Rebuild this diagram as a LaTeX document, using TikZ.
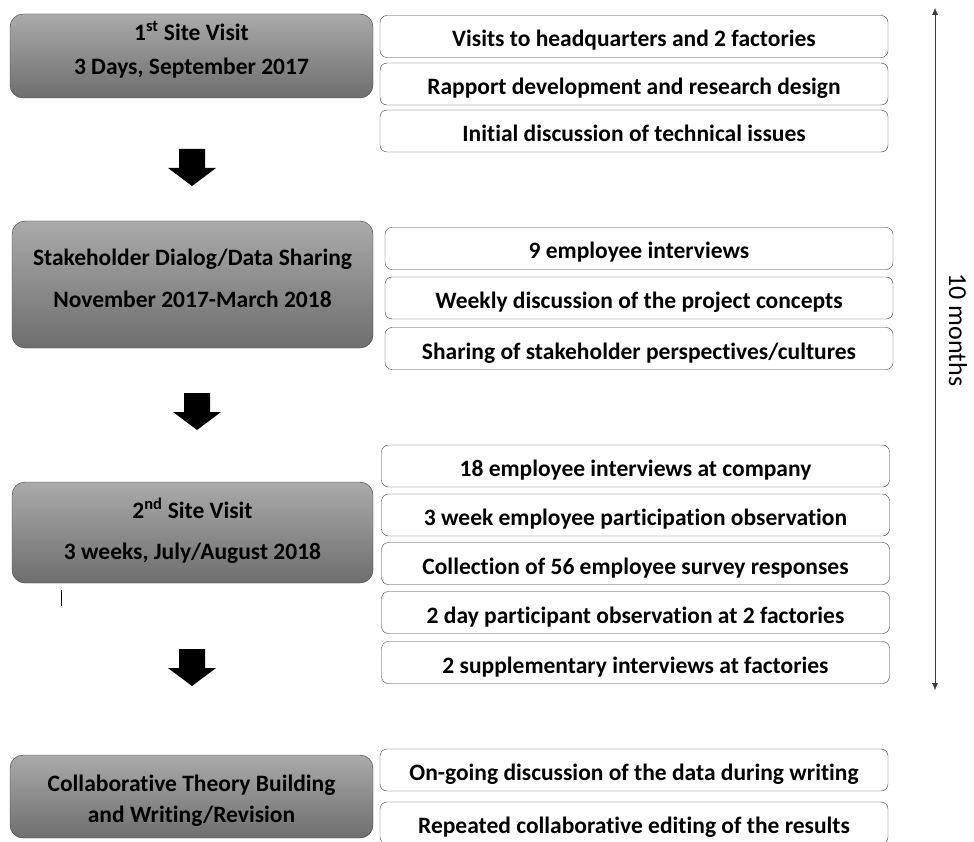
\documentclass[tikz,border=0pt]{standalone}
\usepackage{fontspec}
\setmainfont{Carlito}[Ligatures=NoCommon]
\usetikzlibrary{calc}
\usetikzlibrary{arrows.meta}

\definecolor{phaseTop}{RGB}{170,170,170}
\definecolor{phaseBot}{RGB}{110,110,110}
\definecolor{boxLine}{RGB}{60,60,60}

\tikzset{
  phase/.style={draw=boxLine, rounded corners=13pt, top color=phaseTop, bottom color=phaseBot,
    align=center, inner sep=0pt, font=\bfseries\fontsize{23.5}{28}\selectfont},
  item/.style={draw=boxLine, rounded corners=7pt, fill=white, minimum width=508pt,
    minimum height=42pt, inner sep=0pt, text height=21pt, text depth=0pt,
    font=\bfseries\fontsize{23.5}{28}\selectfont},
  span/.style={draw=boxLine, thin, {Latex[length=7pt,width=6pt]}-{Latex[length=7pt,width=6pt]}}
}

\begin{document}
\begin{tikzpicture}[x=1pt,y=-1pt]
\useasboundingbox (0,0) rectangle (974,842);

\newcommand\blockArrow[2]{\fill[black] (#1-13,#2) -- (#1+13,#2) -- (#1+13,#2+19) -- (#1+24,#2+19) -- (#1,#2+37) -- (#1-24,#2+19) -- (#1-13,#2+19) -- cycle}

% phases
\node[phase, minimum width=363pt, minimum height=84pt] (p1) at (191.5,56)
  {1\textsuperscript{st} Site Visit\\[6pt]3 Days, September 2017\\[-11pt]};
\node[phase, minimum width=361pt, minimum height=127pt] (p2) at (192.5,284.5)
  {Stakeholder Dialog/Data Sharing\\[14pt]November 2017-March 2018\\[-15pt]};
\node[phase, minimum width=361pt, minimum height=101pt] (p3) at (192.5,532.5)
  {2\textsuperscript{nd} Site Visit\\[13pt]3 weeks, July/August 2018\\[-20pt]};
\node[phase, minimum width=363pt, minimum height=83pt] (p4) at (191.5,796.5)
  {Collaborative Theory Building\\[3pt]and Writing/Revision\\[-33pt]};

\blockArrow{192}{149};
\blockArrow{197}{393};
\blockArrow{192}{649};

\draw (61,590) -- (61,606);

% activities
\foreach \y/\t [count=\i] in {36.5/Visits to headquarters and 2 factories,
    84/Rapport development and research design,
    131/Initial discussion of technical issues}
  \node[item] (a\i) at (634,\y) {\t};

\foreach \y/\t [count=\i] in {248.5/9 employee interviews,
    298/Weekly discussion of the project concepts,
    348.5/{Sharing of stakeholder perspectives/cultures}}
  \node[item] (b\i) at (639,\y) {\t};

\foreach \y/\t [count=\i] in {466/18 employee interviews at company,
    515/3 week employee participation observation,
    563.5/Collection of 56 employee survey responses,
    612.5/2 day participant observation at 2 factories,
    662.5/2 supplementary interviews at factories}
  \node[item] (c\i) at (635.5,\y) {\t};

\foreach \y/\t [count=\i] in {770/On-going discussion of the data during writing,
    823/Repeated collaborative editing of the results}
  \node[item] (d\i) at (634,\y) {\t};

% time span
\coordinate (start) at (935,8);
\coordinate (end) at (935,690);
\draw[span] (start) -- (end);
\node[rotate=-90, font=\fontsize{26}{30}\selectfont] (months) at (958,330) {10 months};
\end{tikzpicture}
\end{document}
